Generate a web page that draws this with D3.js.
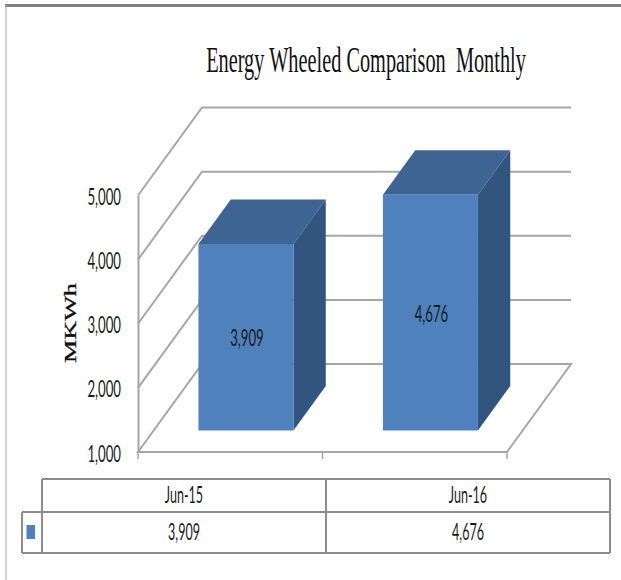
<!DOCTYPE html>
<html lang="en">
    <head>
        <meta charset="utf-8">
        <title>Energy Wheeled Comparison Monthly</title>
        <script type="text/javascript" src="https://cdn.jsdelivr.net/npm/d3@7"></script>
        <style type="text/css">
            html, body {
                margin: 0;
                padding: 0;
                background: white;
            }
            svg {
                display: block;
            }
            .wire {
                fill: none;
                stroke: #a6a6a6;
                stroke-width: 2;
            }
            .label {
                font-family: Lato, sans-serif;
                fill: #1a1a1a;
            }
            .table-line {
                stroke: #8c8c8c;
                stroke-width: 2;
            }
        </style>
    </head>
    <body>
        <script type="text/javascript">

            // Data
            var categories = ["Jun-15", "Jun-16"];
            var values = [3909, 4676];
            var valueTicks = [1000, 2000, 3000, 4000, 5000];
            var titleText = "Energy Wheeled Comparison  Monthly";
            var axisTitle = "MKWh";

            // Width and height
            var w = 621;
            var h = 580;

            // Depth of the 3D box, in pixels from the front to the back wall
            var depthX = 64;
            var depthY = 88;

            // All small labels are squeezed the same way
            var squeeze = "scale(0.66,1.2)";

            var format = d3.format(",");

            // Scales
            var xScale = d3.scaleBand()
                           .domain(categories)
                           .range([138, 507])
                           .paddingInner(0.485)
                           .paddingOuter(0.2425);

            var yScale = d3.scaleLinear()
                           .domain([1000, 5000])
                           .range([452, 195.5]);

            // 0 is the front of the floor, 1 is the back wall
            var depthScale = d3.scaleLinear()
                               .domain([0, 1])
                               .range([0, 1]);

            var tableX = d3.scaleBand()
                           .domain(categories)
                           .range([42, 610]);

            // Project a point of the chart box on to the page
            function px(x, d) {
                return x + depthScale(d) * depthX;
            }
            function py(v, d) {
                return yScale(v) - depthScale(d) * depthY;
            }
            function pathOf(points) {
                return d3.line()(points) + "Z";
            }

            var svg = d3.select("body")
                        .append("svg")
                        .attr("width", w)
                        .attr("height", h);

            // Outer frame, only top and left are in the picture
            svg.append("line")
               .attr("x1", 5).attr("y1", 5.5)
               .attr("x2", w).attr("y2", 5.5)
               .attr("stroke", "#808080")
               .attr("stroke-width", 3);
            svg.append("line")
               .attr("x1", 6).attr("y1", 5)
               .attr("x2", 6).attr("y2", h)
               .attr("stroke", "#a6a6a6")
               .attr("stroke-width", 1);

            // Title
            svg.append("text")
               .attr("transform", "translate(366,72) scale(0.753,1.33)")
               .attr("text-anchor", "middle")
               .attr("font-family", "'Liberation Serif', serif")
               .attr("font-size", 27)
               .attr("fill", "#111")
               .style("white-space", "pre")
               .text(titleText);

            // Floor
            var x0 = xScale.range()[0];
            var x1 = xScale.range()[1];
            var vMin = yScale.domain()[0];

            svg.append("path")
               .attr("class", "wire")
               .attr("d", pathOf([
                   [px(x0, 0), py(vMin, 0)],
                   [px(x0, 1), py(vMin, 1)],
                   [px(x1, 1), py(vMin, 1)],
                   [px(x1, 0), py(vMin, 0)]
               ]));

            // Gridlines, side wall then back wall
            svg.append("g")
               .selectAll("path")
               .data(valueTicks.slice(1))
               .enter()
               .append("path")
               .attr("class", "wire")
               .attr("d", function(d) {
                   return d3.line()([
                       [px(x0, 0), py(d, 0)],
                       [px(x0, 1), py(d, 1)],
                       [px(x1, 1), py(d, 1)]
                   ]);
               });

            // Y axis
            var yAxis = d3.axisLeft()
                          .scale(yScale)
                          .tickValues(valueTicks)
                          .tickFormat(format)
                          .tickSize(0)
                          .tickPadding(0);

            var yG = svg.append("g")
                        .attr("transform", "translate(" + x0 + ",0)")
                        .call(yAxis);

            yG.select(".domain")
              .attr("stroke", "#a6a6a6")
              .attr("stroke-width", 2);

            yG.selectAll("text")
              .attr("class", "label")
              .attr("font-size", 20)
              .attr("text-anchor", "end")
              .attr("dy", null)
              .attr("y", null)
              .attr("x", null)
              .attr("transform", "translate(-17,9) " + squeeze);

            // Foot of the axis and the category ticks
            svg.append("g")
               .selectAll("line")
               .data([x0, x0 + xScale.step(), x1])
               .enter()
               .append("line")
               .attr("x1", function(d) { return d; })
               .attr("x2", function(d) { return d; })
               .attr("y1", yScale(vMin))
               .attr("y2", yScale(vMin) + 7)
               .attr("stroke", "#a6a6a6")
               .attr("stroke-width", 1.5);

            // Axis title
            svg.append("text")
               .attr("transform", "translate(76,363) rotate(-90) scale(1.54,1)")
               .attr("font-family", "'Liberation Serif', serif")
               .attr("font-size", 17)
               .attr("fill", "#111")
               .attr("stroke", "#111")
               .attr("stroke-width", 0.3)
               .text(axisTitle);

            // Bars, they stand between a quarter and three quarters of the depth
            var barFront = 0.245;
            var barBack = 0.75;

            var bars = svg.append("g")
                          .selectAll("g")
                          .data(values)
                          .enter()
                          .append("g");

            function barLeft(i) {
                return xScale(categories[i]);
            }
            function barRight(i) {
                return xScale(categories[i]) + xScale.bandwidth();
            }

            // Top
            bars.append("path")
                .attr("fill", "#3e6493")
                .attr("d", function(d, i) {
                    return pathOf([
                        [px(barLeft(i), barFront), py(d, barFront)],
                        [px(barLeft(i), barBack), py(d, barBack)],
                        [px(barRight(i), barBack), py(d, barBack)],
                        [px(barRight(i), barFront), py(d, barFront)]
                    ]);
                });

            // Side
            bars.append("path")
                .attr("fill", "#325580")
                .attr("d", function(d, i) {
                    return pathOf([
                        [px(barRight(i), barFront), py(d, barFront)],
                        [px(barRight(i), barBack), py(d, barBack)],
                        [px(barRight(i), barBack), py(vMin, barBack)],
                        [px(barRight(i), barFront), py(vMin, barFront)]
                    ]);
                });

            // Front
            bars.append("path")
                .attr("fill", "#4f81bd")
                .attr("d", function(d, i) {
                    return pathOf([
                        [px(barLeft(i), barFront), py(d, barFront)],
                        [px(barRight(i), barFront), py(d, barFront)],
                        [px(barRight(i), barFront), py(vMin, barFront)],
                        [px(barLeft(i), barFront), py(vMin, barFront)]
                    ]);
                });

            // Value labels on the front faces
            bars.append("text")
                .attr("class", "label")
                .attr("font-size", 20)
                .attr("text-anchor", "middle")
                .attr("transform", function(d, i) {
                    var cx = px((barLeft(i) + barRight(i)) / 2, barFront) + 1;
                    var cy = (py(d, barFront) + py(vMin, barFront)) / 2 + 9;
                    return "translate(" + cx + "," + cy + ") " + squeeze;
                })
                .text(function(d) { return format(d); });

            // Data table
            var tableTop = 479;
            var tableMid = 512;
            var tableBottom = 553;
            var tableLeft = tableX.range()[0];
            var tableRight = tableX.range()[1];
            var keyLeft = 22;

            var tableLines = [
                [[tableLeft, tableTop], [tableRight, tableTop]],
                [[keyLeft, tableMid], [tableRight, tableMid]],
                [[keyLeft, tableBottom], [tableRight, tableBottom]],
                [[keyLeft, tableMid], [keyLeft, tableBottom]],
                [[tableLeft, tableTop], [tableLeft, tableBottom]],
                [[tableX(categories[1]), tableTop], [tableX(categories[1]), tableBottom]],
                [[tableRight, tableTop], [tableRight, tableBottom]]
            ];

            svg.append("g")
               .selectAll("line")
               .data(tableLines)
               .enter()
               .append("line")
               .attr("class", "table-line")
               .attr("x1", function(d) { return d[0][0]; })
               .attr("y1", function(d) { return d[0][1]; })
               .attr("x2", function(d) { return d[1][0]; })
               .attr("y2", function(d) { return d[1][1]; });

            // Legend key
            svg.append("rect")
               .attr("x", 26.5)
               .attr("y", 525)
               .attr("width", 8.5)
               .attr("height", 14)
               .attr("fill", "#4f81bd");

            // Table text
            svg.append("g")
               .selectAll("text")
               .data(categories)
               .enter()
               .append("text")
               .attr("class", "label")
               .attr("font-size", 19)
               .attr("text-anchor", "middle")
               .attr("transform", function(d) {
                   return "translate(" + (tableX(d) + tableX.bandwidth() / 2) + ",503) " + squeeze;
               })
               .text(function(d) { return d; });

            svg.append("g")
               .selectAll("text")
               .data(values)
               .enter()
               .append("text")
               .attr("class", "label")
               .attr("font-size", 19)
               .attr("text-anchor", "middle")
               .attr("transform", function(d, i) {
                   return "translate(" + (tableX(categories[i]) + tableX.bandwidth() / 2) + ",540) " + squeeze;
               })
               .text(function(d) { return format(d); });

        </script>
    </body>
</html>
